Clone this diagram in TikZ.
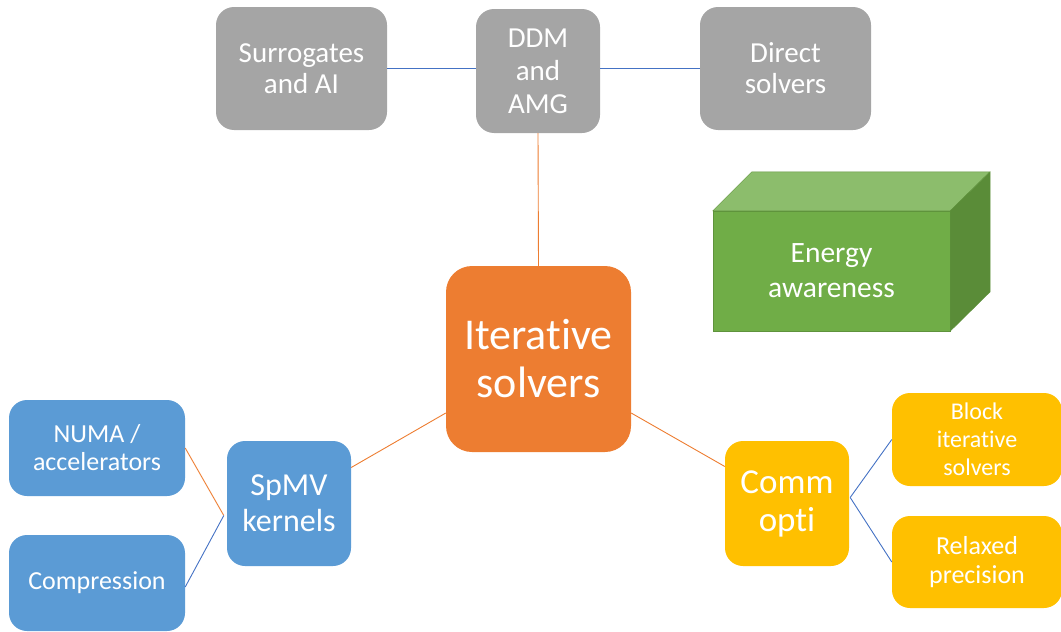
\documentclass[tikz,border=0pt]{standalone}
\usepackage{fontspec}
\setmainfont{Carlito}[Ligatures=NoCommon]
\usetikzlibrary{positioning}

\definecolor{ppgrey}{HTML}{A5A5A5}
\definecolor{pporange}{HTML}{ED7D31}
\definecolor{ppblue}{HTML}{5B9BD5}
\definecolor{ppgold}{HTML}{FFC000}
\definecolor{ppgreen}{HTML}{70AD47}
\definecolor{ppgreentop}{HTML}{8CBD6C}
\definecolor{ppgreenside}{HTML}{5A8C38}
\definecolor{linkblue}{HTML}{4472C4}

\begin{document}
\begin{tikzpicture}[x=1pt, y=-1pt,
            box/.style={rounded corners=18pt, text=white, align=center, inner sep=0pt},
            greybox/.style={box, fill=ppgrey, minimum width=171pt, minimum height=123pt,
                            font=\fontsize{29}{31}\selectfont},
            bluebox/.style={box, fill=ppblue, minimum width=176pt, minimum height=96pt,
                            font=\fontsize{26}{28}\selectfont},
            goldbox/.style={box, fill=ppgold, minimum width=170pt, minimum height=93pt,
                            font=\fontsize{24}{28}\selectfont},
            bline/.style={draw=linkblue, line width=0.9pt},
            oline/.style={draw=pporange, line width=0.9pt}]

            \useasboundingbox (0,0) rectangle (1061,632);

            % top row
            \node[greybox] (surr)   at (301.5,68.5) {Surrogates\\and AI};
            \node[greybox, minimum width=124pt, minimum height=124pt,
                  font=\fontsize{29}{33}\selectfont] (ddm) at (538,71) {DDM\\and\\AMG};
            \node[greybox] (direct) at (785.5,68.5) {Direct\\solvers};

            % centre
            \node[box, fill=pporange, rounded corners=26pt, minimum width=185pt,
                  minimum height=186pt, font=\fontsize{44}{48}\selectfont]
                  (iter) at (538.5,359) {Iterative\\solvers};

            % left branch
            \node[box, fill=ppblue, minimum width=124pt, minimum height=125pt,
                  font=\fontsize{32}{36}\selectfont] (spmv) at (289,503.5) {SpMV\\kernels};
            \node[bluebox] (numa)  at (97,448) {NUMA /\\accelerators};
            \node[bluebox] (compr) at (97,583) {Compression};

            % right branch
            \node[box, fill=ppgold, minimum width=124pt, minimum height=125pt,
                  font=\fontsize{35}{38}\selectfont] (comm) at (787,503.5) {Comm\\opti};
            \node[goldbox] (block) at (977,439.5) {Block\\iterative\\solvers};
            \node[goldbox, minimum height=92pt, font=\fontsize{26}{29}\selectfont]
                  (relax) at (977,562) {Relaxed\\precision};

            % energy cuboid
            \node[fill=ppgreen, draw=ppgreen!85!black, line width=0.4pt, minimum width=237pt,
                  minimum height=120pt, text=white, align=center, inner sep=0pt,
                  font=\fontsize{29.5}{35}\selectfont] (energy) at (831.5,271) {Energy\\awareness};
            \fill[ppgreentop, draw=ppgreen!85!black, line width=0.4pt]
                  (energy.north west) -- ++(39,-39) -- ++(238,0) -- (energy.north east) -- cycle;
            \fill[ppgreenside, draw=ppgreen!85!black, line width=0.4pt]
                  (energy.north east) -- ++(40,-39) -- ++(0,120) -- (energy.south east) -- cycle;

            \coordinate (spmvin)  at ([xshift=-3pt, yshift=-12pt]spmv.west);
            \coordinate (commout) at ([xshift=1pt, yshift=6pt]comm.east);

            \draw[bline] (surr.east) -- (surr.east -| ddm.west);
            \draw[bline] (ddm.east |- direct.west) -- (direct.west);
            \draw[oline] (ddm.south) -- (iter.north);
            \draw[oline] ([yshift=36pt]spmv.east) -- ([yshift=-54pt]iter.west);
            \draw[oline] ([yshift=-54pt]iter.east) -- ([yshift=37pt]comm.west);
            \draw[oline] (numa.east) -- (spmvin);
            \draw[bline] ([yshift=-4pt]compr.east) -- (spmvin);
            \draw[bline] (commout) -- (block.west);
            \draw[bline] (commout) -- (relax.west);
        \end{tikzpicture}
\end{document}
